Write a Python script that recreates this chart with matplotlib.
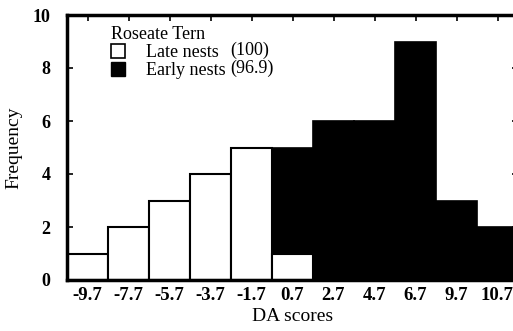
import numpy as np
import matplotlib.pyplot as plt
from matplotlib.patches import Patch

# histogram bins (DA scores) and frequencies
bins = ['-9.7', '-7.7', '-5.7', '-3.7', '-1.7', '0.7', '2.7', '4.7', '6.7', '9.7', '10.7']
late_nests = [1, 2, 3, 4, 5, 1, 0, 0, 0, 0, 0]
early_nests = [0, 0, 0, 0, 0, 5, 6, 6, 9, 3, 2]

plt.rcParams['font.family'] = ['Liberation Serif', 'DejaVu Serif']

fig = plt.figure(figsize=(5.13, 3.31), dpi=100)
ax = fig.add_axes([67/513, 51/331, 451/513, 265/331])

x = np.arange(len(bins))
ax.bar(x, early_nests, width=1.0, color='black', edgecolor='black', linewidth=1.2)
ax.bar(x, late_nests, width=1.0, color='white', edgecolor='black', linewidth=1.5)

ax.set_xlim(-0.5, 10.5)
ax.set_ylim(0, 10)
ax.set_xticks(x)
ax.set_xticklabels(bins, fontsize=13.5, fontweight='bold')
ax.set_yticks(range(0, 11, 2))
ax.set_yticklabels([str(v) for v in range(0, 11, 2)], fontsize=13, fontweight='bold')
ax.tick_params(axis='x', which='both', bottom=False, top=True, direction='in', length=4, width=1.2, pad=5)
ax.tick_params(axis='y', which='both', left=True, right=True, direction='in', length=4, width=1.2, pad=12)
for s in ax.spines.values():
    s.set_linewidth(2.5)

ax.set_xlabel('DA scores', fontsize=14, labelpad=3)
ax.set_ylabel('Frequency', fontsize=14, labelpad=7)

handles = [Patch(facecolor='white', edgecolor='black', linewidth=1.2),
           Patch(facecolor='black', edgecolor='black')]
leg = ax.legend(handles, ['Late nests', 'Early nests'], title='Roseate Tern',
                loc='upper left', bbox_to_anchor=(0.07, 1.005), frameon=False,
                fontsize=13, title_fontsize=13, handlelength=0.78, handleheight=0.8,
                handletextpad=1.15, labelspacing=0.05, borderpad=0.2)
leg._legend_box.align = 'left'
ax.text(0.362, 0.868, '(100)', transform=ax.transAxes, fontsize=13, va='center')
ax.text(0.362, 0.798, '(96.9)', transform=ax.transAxes, fontsize=13, va='center')

fig.savefig('out.png', dpi=100)
